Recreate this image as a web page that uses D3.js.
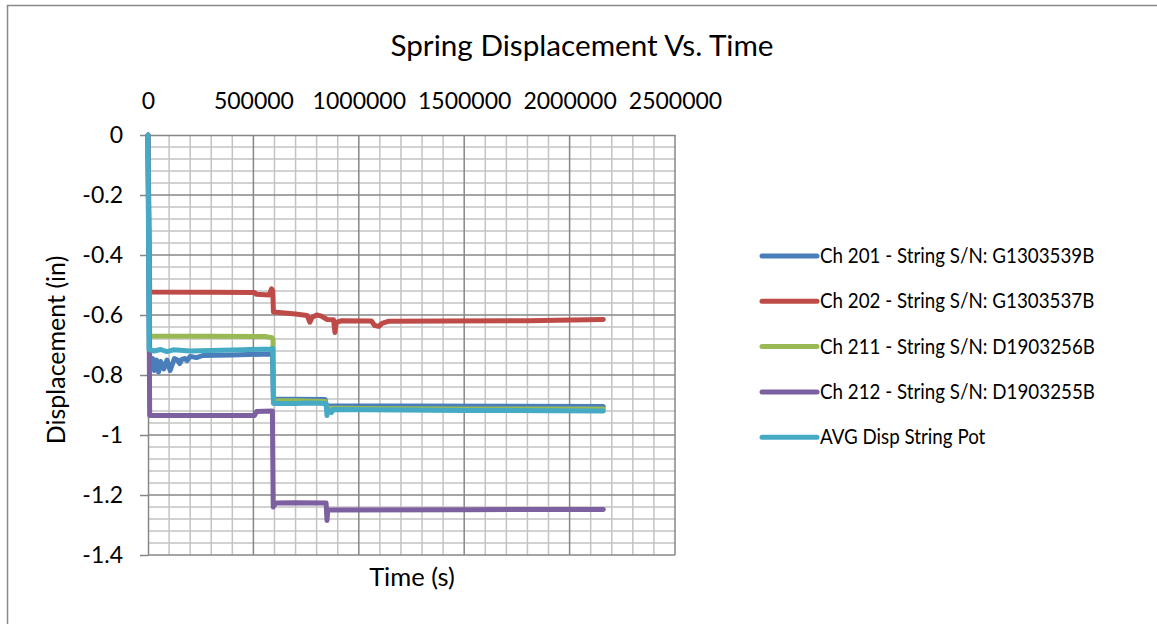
<!DOCTYPE html>
<html>
<head>
<meta charset="utf-8">
<script src="https://cdn.jsdelivr.net/npm/d3@7"></script>
<style>
  html, body { margin: 0; padding: 0; background: #fff; }
  svg { display: block; }
  text { font-family: Lato, "Open Sans", sans-serif; fill: #000; }
</style>
</head>
<body>
<svg id="chart" width="1157" height="624"></svg>
<script>
// ---- data -------------------------------------------------------------
const seriesNames = [
  "Ch 201 - String S/N: G1303539B",
  "Ch 202 - String S/N: G1303537B",
  "Ch 211 - String S/N: D1903256B",
  "Ch 212 - String S/N: D1903255B",
  "AVG Disp String Pot"
];
const seriesColors = ["#4a7ebb", "#be4b48", "#98b954", "#7d60a0", "#46aac5"];

// [time (s), displacement (in)]
const ch201 = [
  [0, 0], [8000, -0.745], [15000, -0.78], [22000, -0.745], [30000, -0.785],
  [40000, -0.75], [50000, -0.79], [60000, -0.755], [75000, -0.78], [90000, -0.75],
  [105000, -0.785], [115000, -0.765], [125000, -0.745], [140000, -0.75],
  [150000, -0.762], [160000, -0.748], [175000, -0.745], [185000, -0.752],
  [200000, -0.738], [230000, -0.742], [260000, -0.735], [400000, -0.733],
  [580000, -0.73], [590000, -0.73], [595000, -0.88], [700000, -0.881],
  [840000, -0.882], [848000, -0.91], [860000, -0.903], [1200000, -0.903],
  [2160000, -0.905]
];
const ch202 = [
  [0, 0], [8000, -0.523], [300000, -0.524], [505000, -0.525], [515000, -0.531],
  [575000, -0.533], [586000, -0.513], [592000, -0.52], [595000, -0.59],
  [700000, -0.597], [755000, -0.602], [768000, -0.624], [778000, -0.608],
  [800000, -0.6], [820000, -0.603], [850000, -0.615], [880000, -0.616],
  [887000, -0.658], [893000, -0.625], [920000, -0.619], [1060000, -0.62],
  [1075000, -0.635], [1095000, -0.638], [1110000, -0.628], [1140000, -0.621],
  [1400000, -0.62], [1800000, -0.619], [2160000, -0.615]
];
const ch211 = [
  [0, 0], [8000, -0.67], [300000, -0.671], [560000, -0.672], [588000, -0.676],
  [593000, -0.68], [596000, -0.885], [700000, -0.886], [840000, -0.888],
  [848000, -0.91], [1000000, -0.912], [1500000, -0.913], [2160000, -0.913]
];
const ch212 = [
  [0, 0], [8000, -0.935], [300000, -0.935], [505000, -0.935], [515000, -0.922],
  [590000, -0.92], [594000, -1.24], [605000, -1.227], [700000, -1.226],
  [845000, -1.227], [849000, -1.285], [853000, -1.25], [1500000, -1.249],
  [2160000, -1.248]
];
const avgDisp = [
  [0, 0], [5000, -0.715], [30000, -0.72], [60000, -0.715], [90000, -0.722],
  [120000, -0.716], [200000, -0.72], [300000, -0.718], [450000, -0.716],
  [580000, -0.713], [592000, -0.712], [595000, -0.895], [700000, -0.895],
  [760000, -0.893], [845000, -0.895], [849000, -0.935], [855000, -0.915],
  [870000, -0.925], [880000, -0.915], [1500000, -0.918], [2160000, -0.92]
];
const seriesData = [ch201, ch202, ch211, ch212, avgDisp];

const xTicks = [0, 500000, 1000000, 1500000, 2000000, 2500000];
const yTicks = [0, -0.2, -0.4, -0.6, -0.8, -1, -1.2, -1.4];
const xMinorStep = 100000;
const yMinorStep = 0.04;

const titleText = "Spring Displacement Vs. Time";
const xTitle = "Time (s)";
const yTitle = "Displacement (in)";

// ---- layout -----------------------------------------------------------
const svg = d3.select("#chart");
const plot = { left: 148, right: 675, top: 135, bottom: 555 };

const x = d3.scaleLinear().domain([0, 2500000]).range([plot.left, plot.right]);
const y = d3.scaleLinear().domain([-1.4, 0]).range([plot.bottom, plot.top]);

// outer chart frame
svg.append("rect")
  .attr("x", 7.5).attr("y", 5.5)
  .attr("width", 1160).attr("height", 640)
  .attr("fill", "#fff").attr("stroke", "#898989").attr("stroke-width", 1.5);

// title
svg.append("text")
  .attr("x", 582).attr("y", 56)
  .attr("text-anchor", "middle")
  .style("font-size", "29.7px")
  .text(titleText);

// ---- gridlines --------------------------------------------------------
const grid = svg.append("g");
const xMinor = d3.range(0, 2500000 + 1, xMinorStep).filter(v => v % 500000 !== 0);
const yMinor = d3.range(0, 36).map(i => -i * yMinorStep)
  .filter(v => Math.abs(Math.round(v / 0.2) * 0.2 - v) > 1e-6);

grid.selectAll(".vmin").data(xMinor).join("line")
  .attr("x1", d => x(d)).attr("x2", d => x(d))
  .attr("y1", plot.top).attr("y2", plot.bottom)
  .attr("stroke", "#c3c3c3").attr("stroke-width", 1.5);
grid.selectAll(".hmin").data(yMinor).join("line")
  .attr("x1", plot.left).attr("x2", plot.right)
  .attr("y1", d => y(d)).attr("y2", d => y(d))
  .attr("stroke", "#c3c3c3").attr("stroke-width", 1.5);
grid.selectAll(".vmaj").data(xTicks.slice(1)).join("line")
  .attr("x1", d => x(d)).attr("x2", d => x(d))
  .attr("y1", plot.top).attr("y2", plot.bottom)
  .attr("stroke", "#878787").attr("stroke-width", 1.5);
grid.selectAll(".hmaj").data(yTicks.slice(1)).join("line")
  .attr("x1", plot.left).attr("x2", plot.right)
  .attr("y1", d => y(d)).attr("y2", d => y(d))
  .attr("stroke", "#878787").attr("stroke-width", 1.5);

// ---- axes -------------------------------------------------------------
const xAxis = svg.append("g")
  .attr("transform", `translate(0,${y(0)})`)
  .call(d3.axisTop(x).tickValues(xTicks).tickFormat(d => String(d))
    .tickSize(0).tickPadding(26));
const yAxis = svg.append("g")
  .attr("transform", `translate(${x(0)},0)`)
  .call(d3.axisLeft(y).tickValues(yTicks).tickFormat(d => String(d))
    .tickSizeInner(8).tickSizeOuter(0).tickPadding(17));

[xAxis, yAxis].forEach(a => {
  a.select(".domain").attr("stroke", "#868686").attr("stroke-width", 1.5);
  a.selectAll(".tick line").attr("stroke", "#868686").attr("stroke-width", 1.5);
  a.selectAll(".tick text")
    .style("font-family", "Lato, sans-serif")
    .style("font-size", "23px")
    .attr("fill", "#000");
});

// axis titles
svg.append("text")
  .attr("x", 412).attr("y", 586)
  .attr("text-anchor", "middle")
  .style("font-size", "25.5px")
  .text(xTitle);
svg.append("text")
  .attr("transform", "translate(65,350) rotate(-90)")
  .attr("text-anchor", "middle")
  .style("font-size", "25px")
  .text(yTitle);

// ---- series -----------------------------------------------------------
const line = d3.line().x(d => x(d[0])).y(d => y(d[1]));
svg.append("g").selectAll("path").data(seriesData).join("path")
  .attr("d", line)
  .attr("fill", "none")
  .attr("stroke", (d, i) => seriesColors[i])
  .attr("stroke-width", 5)
  .attr("stroke-linejoin", "round")
  .attr("stroke-linecap", "round");

// ---- legend -----------------------------------------------------------
const legend = svg.append("g").attr("transform", "translate(762,256)");
const items = legend.selectAll("g").data(seriesNames).join("g")
  .attr("transform", (d, i) => `translate(0,${i * 45.3})`);
items.append("line")
  .attr("x1", 0).attr("x2", 55).attr("y1", 0).attr("y2", 0)
  .attr("stroke", (d, i) => seriesColors[i])
  .attr("stroke-width", 5).attr("stroke-linecap", "round");
// slightly condensed labels, closer to a narrow UI face
items.append("text")
  .attr("transform", "translate(58,0) scale(0.92,1)")
  .attr("dy", "0.35em")
  .style("font-size", "20.4px")
  .text(d => d);
</script>
</body>
</html>
